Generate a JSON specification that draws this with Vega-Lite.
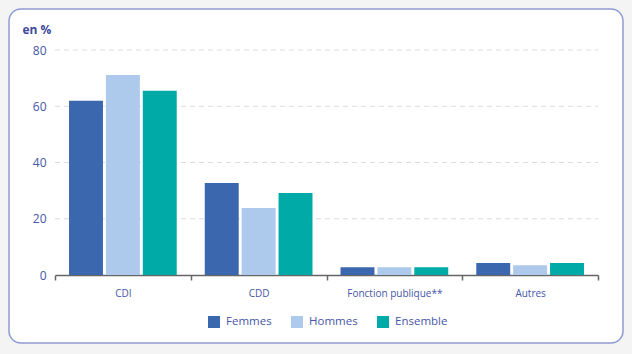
{
  "$schema": "https://vega.github.io/schema/vega-lite/v6.json",
  "width": 614,
  "height": 334,
  "autosize": {"type": "none"},
  "padding": {"left": 9, "top": 9, "right": 9, "bottom": 11},
  "background": "#f4f4f4",
  "config": {
    "font": "Open Sans",
    "view": {"fill": "white", "stroke": "#8d9bd3", "strokeWidth": 1.5, "cornerRadius": 12}
  },
  "datasets": {
    "grid": [{"v": 20}, {"v": 40}, {"v": 60}, {"v": 80}],
    "main": [
      {"categorie": "CDI", "sexe": "Femmes", "valeur": 62.0},
      {"categorie": "CDI", "sexe": "Hommes", "valeur": 71.1},
      {"categorie": "CDI", "sexe": "Ensemble", "valeur": 65.5},
      {"categorie": "CDD", "sexe": "Femmes", "valeur": 32.7},
      {"categorie": "CDD", "sexe": "Hommes", "valeur": 23.8},
      {"categorie": "CDD", "sexe": "Ensemble", "valeur": 29.2},
      {"categorie": "Fonction publique**", "sexe": "Femmes", "valeur": 2.8},
      {"categorie": "Fonction publique**", "sexe": "Hommes", "valeur": 2.8},
      {"categorie": "Fonction publique**", "sexe": "Ensemble", "valeur": 2.8},
      {"categorie": "Autres", "sexe": "Femmes", "valeur": 4.3},
      {"categorie": "Autres", "sexe": "Hommes", "valeur": 3.5},
      {"categorie": "Autres", "sexe": "Ensemble", "valeur": 4.3}
    ]
  },
  "resolve": {"scale": {"x": "shared", "y": "shared"}},
  "layer": [
    {
      "data": {"name": "grid"},
      "mark": {"type": "rule", "color": "#dcdcdc", "strokeDash": [5, 4], "strokeWidth": 1},
      "encoding": {
        "y": {"field": "v", "type": "quantitative",
              "scale": {"domain": [0, 80], "range": [266, 41], "nice": false},
              "axis": {
                "offset": -46, "values": [0, 20, 40, 60, 80], "grid": false, "domain": false, "ticks": false,
                "labelFontSize": 12, "labelColor": "#4656a8", "labelPadding": 9,
                "title": "en %", "titleAngle": 0, "titleAlign": "left", "titleBaseline": "alphabetic",
                "titleX": -33, "titleY": 24, "titleFontSize": 12, "titleFontWeight": "bold", "titleColor": "#3c4b9b"
              }},
        "x": {"datum": "CDI", "type": "nominal", "bandPosition": 0,
              "scale": {"domain": ["CDI", "CDD", "Fonction publique**", "Autres"], "range": [46, 589], "paddingInner": 0, "paddingOuter": 0},
              "axis": {
                "title": null, "offset": -68, "labelAngle": 0, "tickBand": "extent",
                "domainColor": "#666666", "domainWidth": 1.5, "tickColor": "#666666", "tickWidth": 1.5, "tickSize": 5,
                "labelFontSize": 10, "labelColor": "#4656a8", "labelPadding": 8
              }},
        "x2": {"datum": "Autres", "bandPosition": 1}
      }
    },
    {
      "data": {"name": "main"},
      "mark": {"type": "bar"},
      "encoding": {
        "x": {
          "field": "categorie", "type": "nominal",
          "scale": {"domain": ["CDI", "CDD", "Fonction publique**", "Autres"], "range": [46, 589], "paddingInner": 0, "paddingOuter": 0},
          "axis": {
            "title": null, "offset": -68, "labelAngle": 0, "tickBand": "extent",
            "domainColor": "#666666", "domainWidth": 1.5, "tickColor": "#666666", "tickWidth": 1.5, "tickSize": 5,
            "labelFontSize": 10, "labelColor": "#4656a8", "labelPadding": 8
          }
        },
        "xOffset": {
          "field": "sexe", "type": "nominal",
          "scale": {"domain": ["Femmes", "Hommes", "Ensemble"], "paddingInner": 0.08, "paddingOuter": 0.38}
        },
        "y": {
          "field": "valeur", "type": "quantitative",
          "scale": {"domain": [0, 80], "range": [266, 41], "nice": false},
          "axis": {
            "offset": -46, "values": [0, 20, 40, 60, 80], "grid": false, "domain": false, "ticks": false,
            "labelFontSize": 12, "labelColor": "#4656a8", "labelPadding": 9,
            "title": "en %", "titleAngle": 0, "titleAlign": "left", "titleBaseline": "alphabetic",
            "titleX": -33, "titleY": 24, "titleFontSize": 12, "titleFontWeight": "bold", "titleColor": "#3c4b9b"
          }
        },
        "color": {
          "field": "sexe", "type": "nominal",
          "scale": {"domain": ["Femmes", "Hommes", "Ensemble"], "range": ["#3b67ae", "#adc9ec", "#00aba7"]},
          "legend": {
            "title": null, "orient": "none", "direction": "horizontal", "legendX": 199, "legendY": 307,
            "symbolType": "square", "symbolSize": 144, "symbolStrokeWidth": 0, "symbolOpacity": 1,
            "labelFontSize": 11.5, "labelColor": "#4656a8", "labelOffset": 6, "columnPadding": 19, "padding": 0
          }
        }
      }
    }
  ]
}
